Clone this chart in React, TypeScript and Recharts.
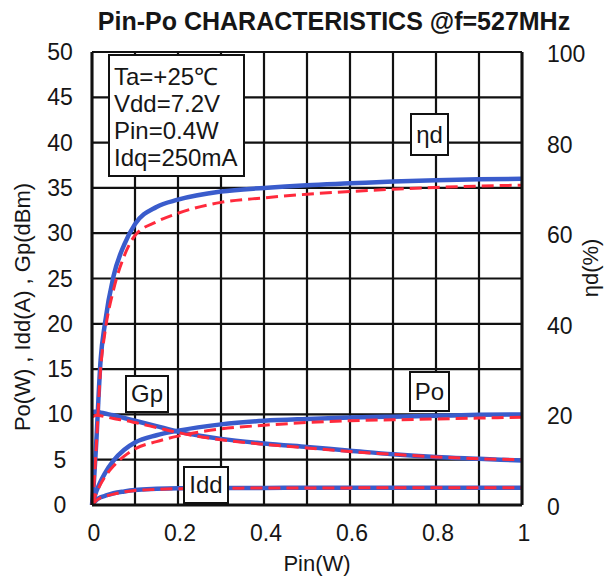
import React from 'react';
import { ComposedChart, Line, XAxis, YAxis, CartesianGrid } from 'recharts';

const PIN = [0, 0.005, 0.01, 0.02, 0.03, 0.05, 0.075, 0.1, 0.15, 0.2, 0.3, 0.4, 0.5, 0.6, 0.7, 0.8, 0.9, 1.0];
const ETA_BLUE = [0, 6, 14, 32, 40, 50.5, 57.5, 62, 65.8, 67.4, 69.2, 70, 70.6, 71, 71.4, 71.7, 71.9, 72];
const ETA_RED = [0, 5, 13, 30, 38, 47.5, 55, 59.5, 62.5, 64.4, 66.8, 67.8, 68.6, 69.2, 69.7, 70.1, 70.4, 70.6];
const PO_BLUE = [0, 0.8, 1.5, 2.6, 3.5, 4.9, 6.1, 6.9, 7.7, 8.2, 8.9, 9.3, 9.5, 9.65, 9.75, 9.85, 9.95, 10.0];
const PO_RED = [0, 0.7, 1.3, 2.3, 3.1, 4.3, 5.4, 6.2, 7.0, 7.6, 8.4, 8.8, 9.1, 9.3, 9.4, 9.5, 9.6, 9.7];
const GP_BLUE = [10.25, 10.3, 10.3, 10.2, 10.1, 9.9, 9.6, 9.3, 8.7, 8.1, 7.3, 6.8, 6.4, 6.0, 5.6, 5.3, 5.1, 4.9];
const GP_RED = [9.7, 9.85, 9.9, 9.85, 9.75, 9.55, 9.35, 9.1, 8.55, 8.0, 7.2, 6.7, 6.3, 5.9, 5.6, 5.3, 5.1, 5.0];
const IDD_BLUE = [0, 0.3, 0.55, 0.85, 1.0, 1.3, 1.5, 1.65, 1.78, 1.85, 1.88, 1.89, 1.9, 1.9, 1.9, 1.9, 1.9, 1.9];
const IDD_RED = [0, 0.25, 0.5, 0.8, 0.95, 1.2, 1.45, 1.6, 1.72, 1.8, 1.85, 1.87, 1.88, 1.89, 1.9, 1.9, 1.9, 1.9];

const X_TICKS = [0, 0.1, 0.2, 0.3, 0.4, 0.5, 0.6, 0.7, 0.8, 0.9, 1];
const X_LABELS = ['0', '', '0.2', '', '0.4', '', '0.6', '', '0.8', '', '1'];
const Y_LEFT_TICKS = [0, 5, 10, 15, 20, 25, 30, 35, 40, 45, 50];
const Y_RIGHT_TICKS = [0, 20, 40, 60, 80, 100];

const TITLE = 'Pin-Po CHARACTERISTICS @f=527MHz';
const CONDITIONS = ['Ta=+25℃', 'Vdd=7.2V', 'Pin=0.4W', 'Idq=250mA'];

const data = PIN.map((p, i) => ({
  pin: p,
  etaB: ETA_BLUE[i],
  etaR: ETA_RED[i],
  poB: PO_BLUE[i],
  poR: PO_RED[i],
  gpB: GP_BLUE[i],
  gpR: GP_RED[i],
  iddB: IDD_BLUE[i],
  iddR: IDD_RED[i],
}));

const FONT = '"Liberation Sans", Arial, sans-serif';
const BLUE = '#3a5ccc';
const RED = '#ff2a3c';
const TXT = '#161616';

const LeftTick = (props: any) => (
  <text x={props.x - 30} y={props.y} dy={8} textAnchor="middle" fontSize={23} fontFamily={FONT} fill={TXT}>
    {props.payload.value}
  </text>
);
const RightTick = (props: any) => (
  <text x={props.x + 23} y={props.y} dy={10} textAnchor="start" fontSize={23} fontFamily={FONT} fill={TXT}>
    {props.payload.value}
  </text>
);
const BottomTick = (props: any) => {
  const idx = X_TICKS.findIndex((t) => Math.abs(t - props.payload.value) < 1e-6);
  const label = idx >= 0 ? X_LABELS[idx] : '';
  if (!label) return null;
  return (
    <text x={props.x + 2} y={props.y} dy={34} textAnchor="middle" fontSize={23} fontFamily={FONT} fill={TXT}>
      {label}
    </text>
  );
};

const boxStyle = (left: number, top: number, width: number, height: number): React.CSSProperties => ({
  position: 'absolute',
  left,
  top,
  width,
  height,
  boxSizing: 'border-box',
  border: '2px solid #111',
  background: '#fff',
  fontFamily: FONT,
  fontSize: 24,
  color: TXT,
  display: 'flex',
  alignItems: 'center',
  justifyContent: 'center',
});

export default function App() {
  return (
    <div style={{ position: 'absolute', left: 0, top: 0, width: 607, height: 582, background: '#fff' }}>
      <ComposedChart
        width={607}
        height={582}
        data={data}
        margin={{ top: 52, right: 0, left: 0, bottom: 0 }}
      >
        <CartesianGrid stroke="#111" strokeWidth={2.2} yAxisId="l" fill="#fff" />
        <XAxis
          dataKey="pin"
          type="number"
          domain={[0, 1]}
          ticks={X_TICKS}
          tick={<BottomTick />}
          tickLine={false}
          tickSize={0}
          axisLine={{ stroke: '#111', strokeWidth: 3 }}
          height={77}
          interval={0}
        />
        <YAxis
          yAxisId="l"
          orientation="left"
          domain={[0, 50]}
          ticks={Y_LEFT_TICKS}
          tick={<LeftTick />}
          tickLine={false}
          tickSize={0}
          axisLine={{ stroke: '#111', strokeWidth: 3 }}
          width={92}
          interval={0}
        />
        <YAxis
          yAxisId="r"
          orientation="right"
          domain={[0, 100]}
          ticks={Y_RIGHT_TICKS}
          tick={<RightTick />}
          tickLine={false}
          tickSize={0}
          axisLine={{ stroke: '#111', strokeWidth: 3 }}
          width={85}
          interval={0}
        />
        <Line yAxisId="r" dataKey="etaB" type="monotone" stroke={BLUE} strokeWidth={4.5} dot={false} isAnimationActive={false} />
        <Line yAxisId="l" dataKey="poB" type="monotone" stroke={BLUE} strokeWidth={4.5} dot={false} isAnimationActive={false} />
        <Line yAxisId="l" dataKey="gpB" type="monotone" stroke={BLUE} strokeWidth={4.5} dot={false} isAnimationActive={false} />
        <Line yAxisId="l" dataKey="iddB" type="monotone" stroke={BLUE} strokeWidth={4.5} dot={false} isAnimationActive={false} />
        <Line yAxisId="r" dataKey="etaR" type="monotone" stroke={RED} strokeWidth={3} strokeDasharray="12 6" dot={false} isAnimationActive={false} />
        <Line yAxisId="l" dataKey="poR" type="monotone" stroke={RED} strokeWidth={3} strokeDasharray="12 6" dot={false} isAnimationActive={false} />
        <Line yAxisId="l" dataKey="gpR" type="monotone" stroke={RED} strokeWidth={3} strokeDasharray="12 6" dot={false} isAnimationActive={false} />
        <Line yAxisId="l" dataKey="iddR" type="monotone" stroke={RED} strokeWidth={3} strokeDasharray="12 6" dot={false} isAnimationActive={false} />
      </ComposedChart>

      <div
        style={{
          position: 'absolute',
          left: 0,
          top: 7,
          width: 668,
          textAlign: 'center',
          fontFamily: FONT,
          fontWeight: 'bold',
          fontSize: 25,
          color: TXT,
          whiteSpace: 'nowrap',
        }}
      >
        {TITLE}
      </div>

      <div
        style={{
          position: 'absolute',
          left: 108,
          top: 54,
          width: 137,
          height: 123,
          boxSizing: 'border-box',
          border: '2px solid #111',
          background: '#fff',
          fontFamily: FONT,
          fontSize: 24,
          lineHeight: '27px',
          color: TXT,
          paddingLeft: 4,
          paddingTop: 7,
          whiteSpace: 'nowrap',
        }}
      >
        {CONDITIONS.map((c) => (
          <div key={c}>{c}</div>
        ))}
      </div>

      <div style={boxStyle(410, 113, 39, 43)}>ηd</div>
      <div style={boxStyle(125, 375, 44, 38)}>Gp</div>
      <div style={boxStyle(409, 371, 41, 41)}>Po</div>
      <div style={boxStyle(183, 466, 46, 38)}>Idd</div>

      <div
        style={{
          position: 'absolute',
          left: 23,
          top: 307,
          transform: 'translate(-50%, -50%) rotate(-90deg)',
          fontFamily: FONT,
          fontSize: 22,
          color: TXT,
          whiteSpace: 'nowrap',
        }}
      >
        Po(W) , Idd(A) , Gp(dBm)
      </div>
      <div
        style={{
          position: 'absolute',
          left: 591,
          top: 268,
          transform: 'translate(-50%, -50%) rotate(-90deg)',
          fontFamily: FONT,
          fontSize: 22,
          color: TXT,
          whiteSpace: 'nowrap',
        }}
      >
        ηd(%)
      </div>
      <div
        style={{
          position: 'absolute',
          left: 317,
          top: 564,
          transform: 'translate(-50%, -50%)',
          fontFamily: FONT,
          fontSize: 22,
          color: TXT,
          whiteSpace: 'nowrap',
        }}
      >
        Pin(W)
      </div>
    </div>
  );
}
